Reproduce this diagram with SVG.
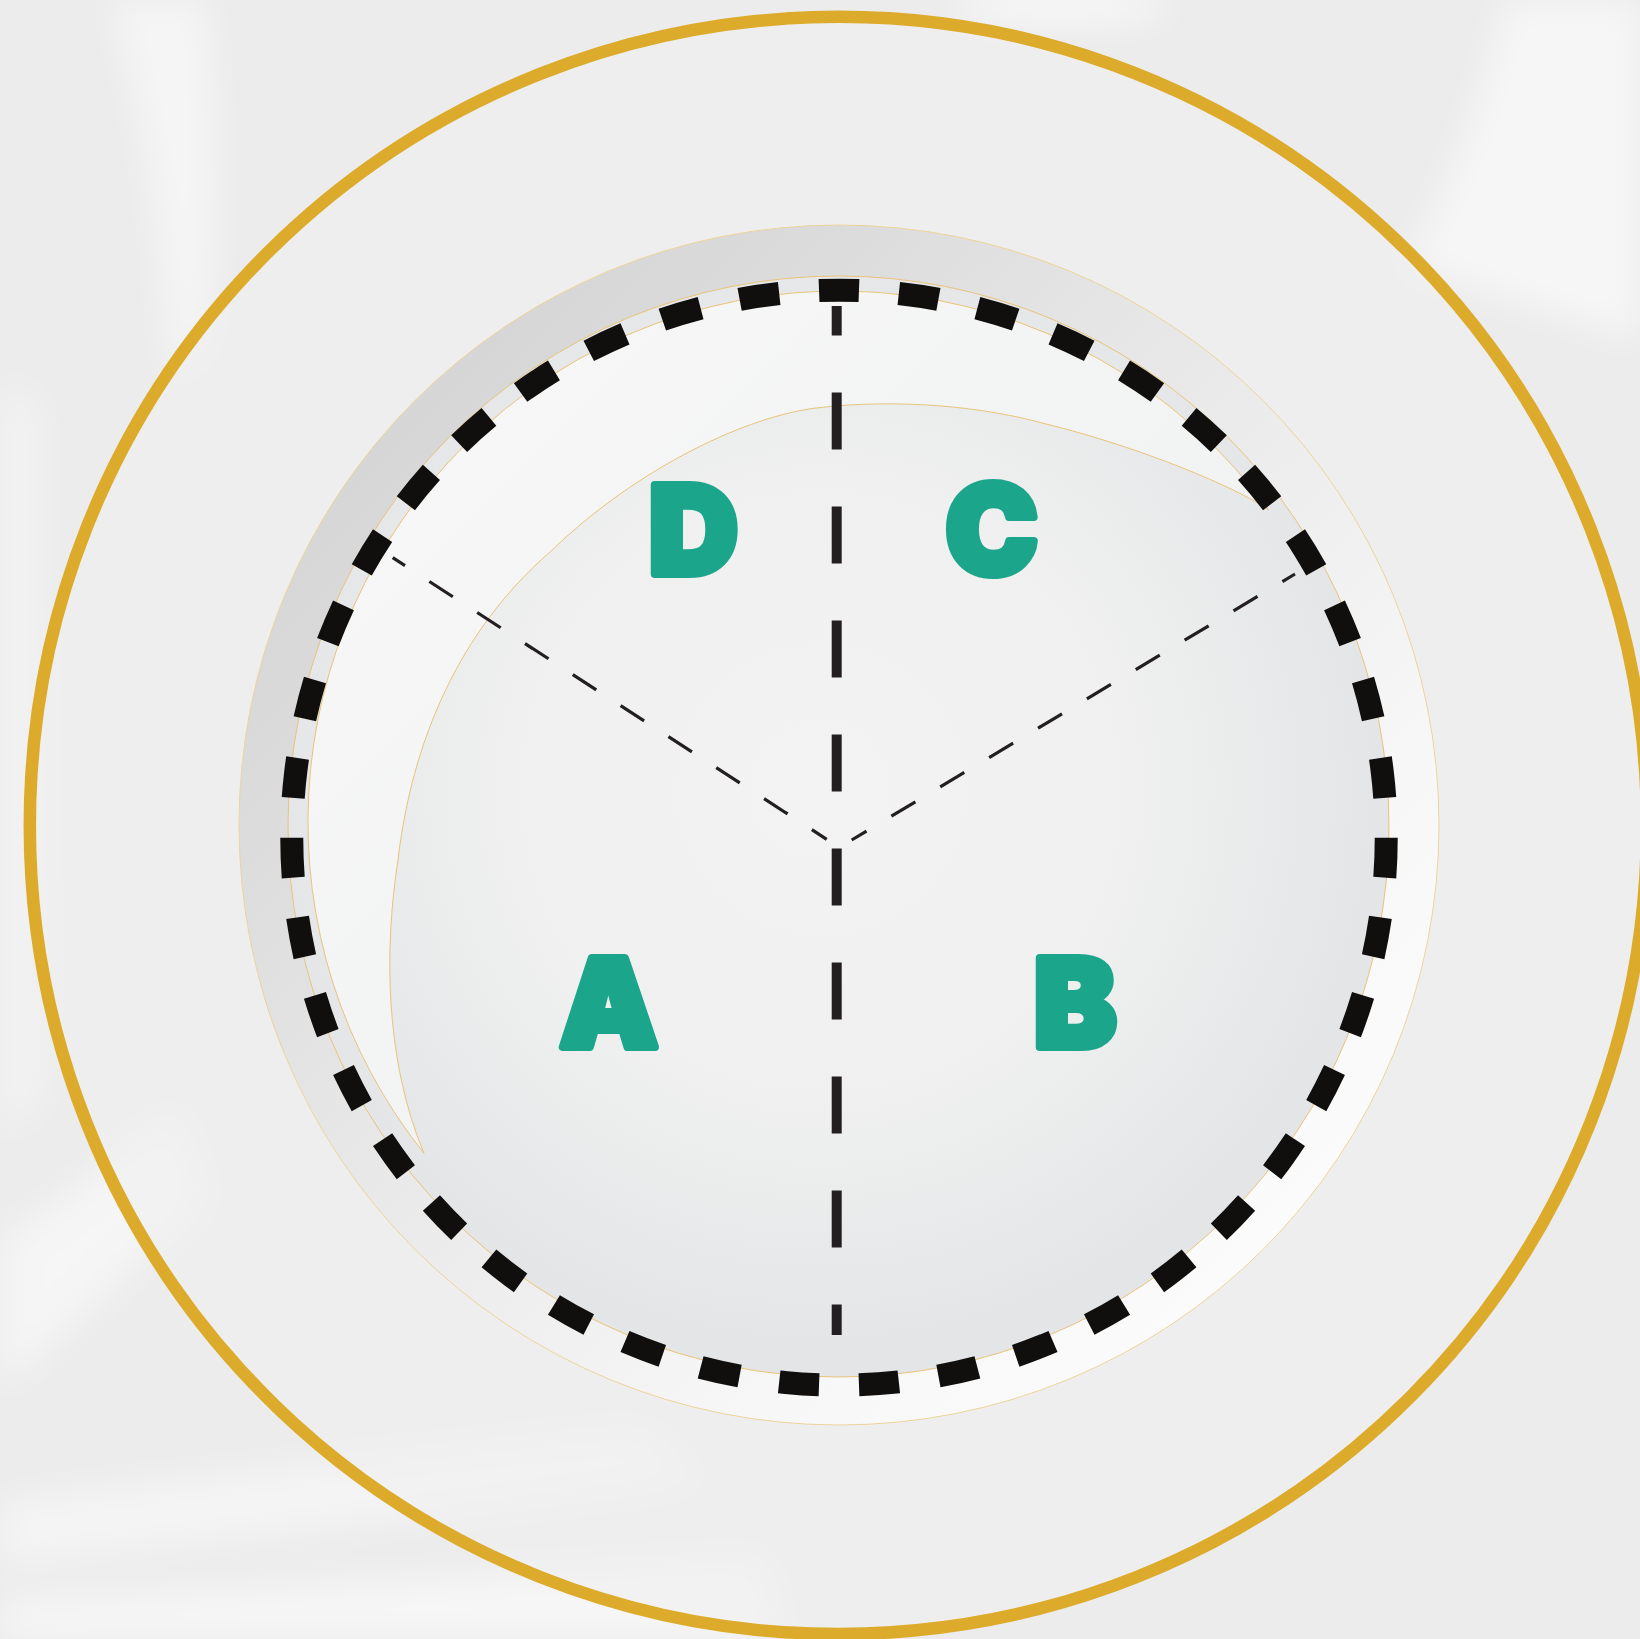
<svg xmlns="http://www.w3.org/2000/svg" width="1640" height="1639" viewBox="0 0 1640 1639">
  <defs>
    <filter id="soft" x="-20%" y="-20%" width="140%" height="140%">
      <feGaussianBlur stdDeviation="18"/>
    </filter>
    <linearGradient id="bigDisc" gradientUnits="userSpaceOnUse" x1="415" y1="401" x2="1263" y2="1249">
      <stop offset="0" stop-color="#d6d6d6"/>
      <stop offset="0.14" stop-color="#dbdbdb"/>
      <stop offset="0.4" stop-color="#e7e7e7"/>
      <stop offset="0.8" stop-color="#f7f7f7"/>
      <stop offset="1" stop-color="#fbfbfb"/>
    </linearGradient>
    <radialGradient id="bandDisc" gradientUnits="userSpaceOnUse" cx="820" cy="790" r="560">
      <stop offset="0" stop-color="#f2f3f2"/>
      <stop offset="0.55" stop-color="#eff0ef"/>
      <stop offset="1" stop-color="#e4e5e7"/>
    </radialGradient>
    <linearGradient id="crescent" gradientUnits="userSpaceOnUse" x1="400" y1="400" x2="900" y2="900">
      <stop offset="0" stop-color="#f7f7f7"/>
      <stop offset="1" stop-color="#f1f2f2"/>
    </linearGradient>
    <style>
      .letter { font-family: "Inter", "Roboto", "Liberation Sans", sans-serif; font-weight: 900; font-size: 123px; fill: #1ba68b; stroke: #1ba68b; stroke-width: 8; stroke-linejoin: round; text-anchor: middle; }
      .divider { fill: none; stroke: #231f20; }
    </style>
  </defs>

  <!-- background -->
  <rect x="0" y="0" width="1640" height="1639" fill="#ececec"/>
  <g fill="#ffffff" filter="url(#soft)">
    <path d="M110 0 L205 0 Q222 200 205 340 L170 380 Q162 160 110 0 Z" opacity="0.5"/>
    <path d="M1506 0 Q1470 160 1405 265 L1640 340 L1640 0 Z" opacity="0.55"/>
    <ellipse cx="1060" cy="6" rx="110" ry="14" opacity="0.8"/>
    <path d="M0 1240 Q90 1180 175 1110 L205 1200 Q100 1300 0 1390 Z" opacity="0.5"/>
    <path d="M0 1500 Q300 1465 640 1430 L700 1480 Q320 1530 0 1565 Z" opacity="0.45"/>
    <path d="M0 1600 Q400 1580 760 1560 L780 1639 L0 1639 Z" opacity="0.55"/>
    <path d="M0 380 L40 400 L45 1100 L0 1140 Z" opacity="0.35"/>
  </g>

  <!-- outer gold ring -->
  <g id="outer-ring">
    <circle cx="838.4" cy="825.4" r="808.6" fill="#f0f0f0" fill-opacity="0.6" stroke="#ddab2b" stroke-width="12.5"/>
  </g>

  <!-- big disc -->
  <g id="big-disc">
    <circle cx="839" cy="825" r="600" fill="url(#bigDisc)" stroke="#ecd39a" stroke-width="1"/>
  </g>

  <!-- band disc -->
  <g id="band-disc">
    <circle cx="838.5" cy="826.5" r="550.5" fill="url(#bandDisc)" stroke="#e8c47a" stroke-width="1"/>
  </g>

  <!-- crescent highlight -->
  <g id="crescent-highlight">
    <path d="M1268.6 509.9 C1238 488 1140 447 1046 424 C985 407 900 398 816 408 C750 416 640 465 550 552 C460 630 412 740 398 860 C384 950 385 1060 423.9 1153.2 A531 531 0 0 1 463.5 446.5 A531 531 0 0 1 1268.6 509.9 Z" fill="url(#crescent)" stroke="#e8c47a" stroke-width="1"/>
  </g>

  <!-- dashed ring -->
  <g id="dashed-ring">
    <path d="M839 290.2 A547.5 547.5 0 0 1 839 1385.2 A547.5 547.5 0 0 1 839 290.2 Z" fill="none" stroke="#100f0d" stroke-width="23" pathLength="86" stroke-dasharray="1 1" stroke-dashoffset="0.5"/>
  </g>

  <!-- dividers -->
  <g id="connectors">
    <path class="divider" d="M836.7 306 V1335" stroke-width="10" stroke-dasharray="57 57" stroke-dashoffset="27.4"/>
    <path class="divider" d="M392.7 557.7 L826.7 839.3" stroke-width="3.2" stroke-dasharray="28 29" stroke-dashoffset="13.3"/>
    <path class="divider" d="M1295 574 L851.7 840" stroke-width="3.2" stroke-dasharray="28 29" stroke-dashoffset="13.3"/>
  </g>

  <!-- quadrant labels -->
  <g id="label-D"><text class="letter" x="693.4" y="574.3">D</text></g>
  <g id="label-C"><text class="letter" x="991.7" y="574.3">C</text></g>
  <g id="label-A"><text class="letter" x="609" y="1047">A</text></g>
  <g id="label-B"><text class="letter" x="1075" y="1047">B</text></g>
</svg>
